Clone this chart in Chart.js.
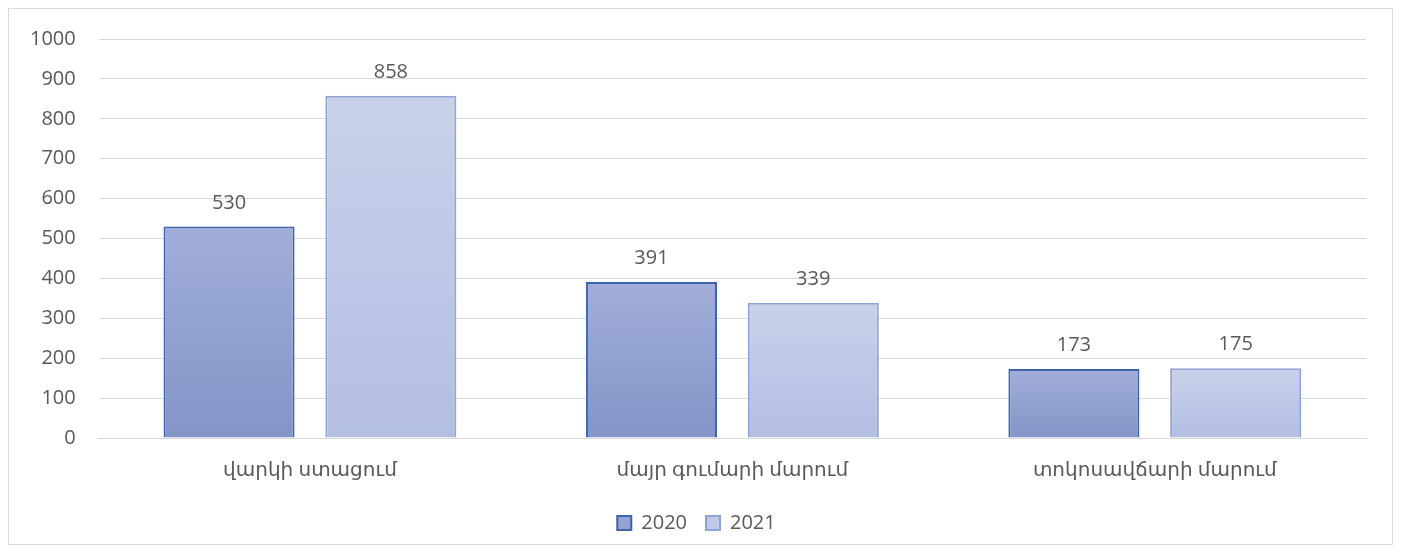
<!DOCTYPE html>
<html>
<head>
<meta charset="utf-8">
<script src="https://cdn.jsdelivr.net/npm/chart.js@4"></script>
<style>
  html,body{margin:0;padding:0;background:#fff;}
  #box{position:absolute;left:8px;top:8px;width:1385px;height:537px;border:1px solid #d9d9d9;box-sizing:border-box;background:#fff;}
  #c{display:block;}
</style>
</head>
<body>
<div id="box"><canvas id="c" width="1383" height="535"></canvas></div>
<script>
const categories = ["վարկի ստացում", "մայր գումարի մարում", "տոկոսավճարի մարում"];
const years = ["2020", "2021"];
const vals2020 = [530, 391, 173];
const vals2021 = [858, 339, 175];
const yTicks = [0, 100, 200, 300, 400, 500, 600, 700, 800, 900, 1000];

const FONT = "'Open Sans', 'DejaVu Sans', sans-serif";
const TXT = "#595959";
const GRID = "#d9d9d9";

Chart.defaults.font.family = FONT;
Chart.defaults.font.size = 20;
Chart.defaults.color = TXT;

// per-bar vertical gradient, lighter at top
function grad(top, bottom){
  return function(ctx){
    const ch = ctx.chart;
    if(!ch.chartArea || ctx.raw === undefined) return top;
    const ys = ch.scales.y;
    const y0 = ys.getPixelForValue(ctx.raw), y1 = ys.getPixelForValue(0);
    const g = ch.ctx.createLinearGradient(0, y0, 0, y1);
    g.addColorStop(0, top);
    g.addColorStop(1, bottom);
    return g;
  };
}

const valueLabels = {
  id: "valueLabels",
  afterDatasetsDraw(chart){
    const c = chart.ctx;
    c.save();
    c.font = "20px " + FONT;
    c.fillStyle = TXT;
    c.textAlign = "center";
    c.textBaseline = "alphabetic";
    chart.data.datasets.forEach((ds, i) => {
      chart.getDatasetMeta(i).data.forEach((bar, j) => {
        c.fillText(String(ds.data[j]), bar.x, bar.y - 18);
      });
    });
    c.restore();
  }
};

new Chart(document.getElementById("c"), {
  type: "bar",
  data: {
    labels: categories,
    datasets: [
      { label: years[0], data: vals2020, backgroundColor: grad("#a2aed8", "#8394c8"),
        borderColor: "#3f63ad", borderWidth: 2, categoryPercentage: 0.766, barPercentage: 0.81 },
      { label: years[1], data: vals2021, backgroundColor: grad("#c9d1ea", "#b3bee3"),
        borderColor: "#90a3d5", borderWidth: 2, categoryPercentage: 0.766, barPercentage: 0.81 }
    ]
  },
  options: {
    responsive: false,
    animation: false,
    layout: { padding: { left: 18, right: 26, top: 30, bottom: 1 } },
    plugins: {
      tooltip: { enabled: false },
      legend: {
        position: "bottom",
        labels: {
          boxWidth: 14, boxHeight: 14, padding: 19, color: TXT, font: { size: 20 },
          generateLabels(chart){
            return chart.data.datasets.map((ds, i) => ({
              text: ds.label,
              fillStyle: i === 0 ? "#95a3d2" : "#c0c9e8",
              strokeStyle: ds.borderColor,
              lineWidth: 2,
              fontColor: TXT,
              datasetIndex: i
            }));
          }
        }
      }
    },
    scales: {
      x: {
        grid: { display: false },
        border: { display: true, color: GRID, width: 1 },
        ticks: { padding: 12, color: TXT, font: { size: 20 } }
      },
      y: {
        min: 0, max: 1000,
        afterBuildTicks(axis){ axis.ticks = yTicks.map(v => ({ value: v })); },
        // invisible tick marks give the label gap without padding the top
        grid: { color: GRID, drawTicks: true, tickLength: 20, tickColor: "rgba(0,0,0,0)" },
        border: { display: false },
        ticks: { padding: 3, color: TXT, font: { size: 20 }, callback: v => String(v) }
      }
    }
  },
  plugins: [valueLabels]
});
</script>
</body>
</html>
